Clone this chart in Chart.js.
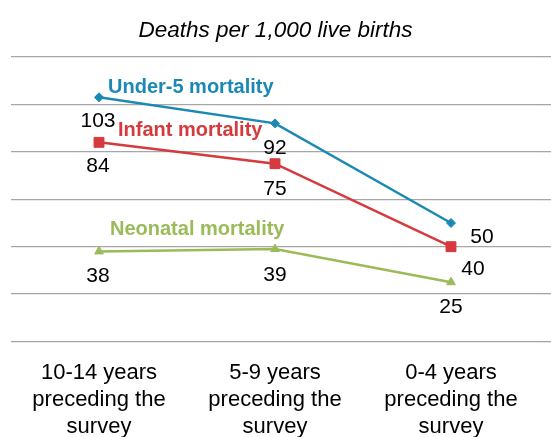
<!DOCTYPE html>
<html>
<head>
<meta charset="utf-8">
<script src="https://cdn.jsdelivr.net/npm/chart.js@4"></script>
<style>
  body { margin: 0; background: #fff; }
  #wrap { width: 551px; height: 437px; }
</style>
</head>
<body>
<div id="wrap"><canvas id="grafico" width="551" height="437"></canvas></div>
<script>
// dados
const categories = [
    ['10-14 years', 'preceding the', 'survey'],
    ['5-9 years', 'preceding the', 'survey'],
    ['0-4 years', 'preceding the', 'survey']
];
const seriesNames = ['Under-5 mortality', 'Infant mortality', 'Neonatal mortality'];
const under5 = [103, 92, 50];
const infant = [84, 75, 40];
const neonatal = [38, 39, 25];
const yMin = 0, yMax = 120, yStep = 20;

const FONT = '"Liberation Sans", Arial, sans-serif';
const colors = ['#1a89b4', '#d63a3e', '#9bbb59'];

// deslocamento dos rotulos (em pixels, relativo ao ponto)
const valueOffsets = [
    [[-1, 24], [0, 25], [31, 14]],
    [[-1, 24], [0, 26], [22, 23]],
    [[-1, 25], [0, 26], [0, 25]]
];
const nameOffsets = [[9, -10], [19, -12], [11, -22]];

const labelsPlugin = {
    id: 'labels',
    afterDatasetsDraw(chart) {
        const ctx = chart.ctx;
        ctx.save();
        chart.data.datasets.forEach((ds, i) => {
            const meta = chart.getDatasetMeta(i);
            // valores
            ctx.font = '21px ' + FONT;
            ctx.fillStyle = '#000';
            ctx.textAlign = 'center';
            ctx.textBaseline = 'middle';
            meta.data.forEach((pt, j) => {
                const off = valueOffsets[i][j];
                ctx.fillText(ds.data[j], pt.x + off[0], pt.y + off[1]);
            });
            // nome da serie
            const p0 = meta.data[0];
            ctx.font = 'bold 20px ' + FONT;
            ctx.fillStyle = colors[i];
            ctx.textAlign = 'left';
            ctx.fillText(ds.label, p0.x + nameOffsets[i][0], p0.y + nameOffsets[i][1]);
        });
        ctx.restore();
    }
};

new Chart(document.getElementById('grafico'), {
    type: 'line',
    data: {
        labels: categories,
        datasets: [
            { label: seriesNames[0], data: under5, borderColor: colors[0], backgroundColor: colors[0], pointStyle: 'rectRot', pointRadius: 4.5 },
            { label: seriesNames[1], data: infant, borderColor: colors[1], backgroundColor: colors[1], pointStyle: 'rect', pointRadius: 7 },
            { label: seriesNames[2], data: neonatal, borderColor: colors[2], backgroundColor: colors[2], pointStyle: 'triangle', pointRadius: 5 }
        ].map(d => Object.assign(d, { borderWidth: 2.5, pointBorderWidth: 1, tension: 0, fill: false, yAxisID: 'y' }))
    },
    options: {
        responsive: false,
        animation: false,
        layout: { padding: { left: 0, right: 0, top: 0, bottom: -21.5 } },
        scales: {
            x: {
                offset: true,
                grid: { display: false, drawTicks: false },
                border: { display: false },
                ticks: {
                    color: '#000',
                    font: { family: FONT, size: 22, lineHeight: 1.227 },
                    padding: 18,
                    maxRotation: 0,
                    autoSkip: false
                }
            },
            y: {
                position: 'right',
                min: yMin,
                max: yMax,
                ticks: { display: false, stepSize: yStep },
                border: { display: false },
                grid: { color: '#a6a6a6', lineWidth: 1.3, tickLength: 12 }
            },
            // eixo vazio so para deixar a margem esquerda
            yL: {
                position: 'left',
                min: yMin,
                max: yMax,
                ticks: { display: false, stepSize: yStep },
                border: { display: false },
                grid: { drawOnChartArea: false, color: 'rgba(0,0,0,0)', tickLength: 11 }
            }
        },
        plugins: {
            legend: { display: false },
            tooltip: { enabled: false },
            title: {
                display: true,
                text: 'Deaths per 1,000 live births',
                color: '#000',
                font: { family: FONT, size: 22.5, style: 'italic', weight: 'normal', lineHeight: 1.2 },
                padding: { top: 17, bottom: 13 }
            }
        }
    },
    plugins: [labelsPlugin]
});
</script>
</body>
</html>
